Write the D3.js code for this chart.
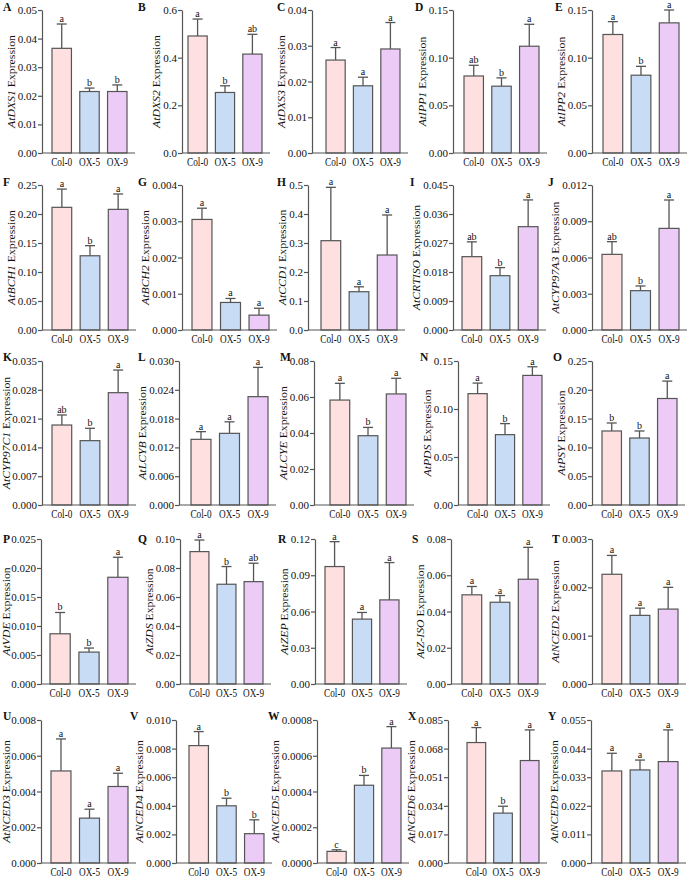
<!DOCTYPE html>
<html><head><meta charset="utf-8">
<script src="https://cdn.jsdelivr.net/npm/d3@7"></script>
<style>body{margin:0;background:#fff}svg{display:block}text{font-family:"Liberation Serif","Times New Roman",serif;fill:#111}</style>
</head><body>
<script>
// ---------- DATA ----------
const groups = ["Col-0","OX-5","OX-9"];
const panelLetters = ["A","B","C","D","E","F","G","H","I","J","K","L","M","N","O","P","Q","R","S","T","U","V","W","X","Y"];
const genes = ["DXS1","DXS2","DXS3","IPP1","IPP2","BCH1","BCH2","CCD1","CRTISO","CYP97A3","CYP97C1","LCYB","LCYE","PDS","PSY","VDE","ZDS","ZEP","Z-ISO","NCED2","NCED3","NCED4","NCED5","NCED6","NCED9"];
const yMax = [0.05,0.6,0.04,0.15,0.15, 0.25,0.004,0.5,0.045,0.012, 0.035,0.030,0.08,0.15,0.25, 0.025,0.10,0.12,0.08,0.003, 0.008,0.010,0.0008,0.085,0.055];
const tickStep = [0.01,0.2,0.01,0.05,0.05, 0.05,0.001,0.1,0.009,0.003, 0.007,0.006,0.02,0.05,0.05, 0.005,0.02,0.03,0.02,0.001, 0.002,0.002,0.0002,0.017,0.011];
const tickDecimals = [2,1,2,2,2, 2,3,1,3,3, 3,3,2,2,2, 3,2,2,2,3, 3,3,4,3,3];
const col0Mean = [0.0366,0.491,0.026,0.0808,0.1243, 0.2115,0.00305,0.308,0.02276,0.00626, 0.01944,0.01368,0.0583,0.116,0.1285, 0.00866,0.0913,0.0972,0.0492,0.00227, 0.00515,0.00821,0.000065,0.0716,0.0354];
const col0SD   = [0.0085,0.071,0.0035,0.0112,0.0135, 0.0315,0.00031,0.184,0.0046,0.00105, 0.00244,0.0016,0.0093,0.011,0.0139, 0.00367,0.008,0.0206,0.0046,0.00039, 0.00179,0.00098,0.000009,0.0089,0.0068];
const ox5Mean  = [0.0215,0.254,0.0188,0.0701,0.0816, 0.128,0.00076,0.132,0.01686,0.003255, 0.01564,0.01493,0.0385,0.0733,0.1163, 0.0055,0.0688,0.0537,0.0451,0.00142, 0.00251,0.0040,0.000435,0.02965,0.0358];
const ox5SD    = [0.0012,0.028,0.0024,0.0087,0.0093, 0.0174,0.00011,0.017,0.0025,0.00039, 0.003,0.0024,0.0046,0.0115,0.0122, 0.0007,0.0122,0.0055,0.0037,0.00015, 0.0005,0.00053,0.000055,0.0041,0.0038];
const ox9Mean  = [0.0215,0.415,0.0291,0.112,0.1365, 0.208,0.00041,0.2586,0.03207,0.00841, 0.0273,0.02257,0.0617,0.135,0.1849, 0.0184,0.0706,0.0696,0.0578,0.00155, 0.00428,0.00205,0.000643,0.0609,0.039];
const ox9SD    = [0.0023,0.083,0.0074,0.023,0.0135, 0.0265,0.00019,0.138,0.0083,0.00235, 0.0055,0.0061,0.0087,0.009,0.0302, 0.00345,0.0127,0.0309,0.0176,0.00045, 0.00074,0.00097,0.00012,0.0182,0.0122];
const col0Sig = ["a","a","a","ab","a", "a","a","a","ab","ab", "ab","a","a","a","b", "b","a","a","a","a", "a","a","c","a","a"];
const ox5Sig  = ["b","b","a","b","b", "b","a","a","b","b", "b","a","b","b","b", "b","b","a","a","a", "a","b","b","b","a"];
const ox9Sig  = ["b","ab","a","a","a", "a","a","a","a","a", "a","a","a","a","a", "a","ab","a","a","a", "a","b","a","a","a"];

// ---------- LAYOUT ----------
const colors = ["#fde0df","#c8dcf5","#ecccf6"];
const stroke = "#555";
const rowTop = [10,185,361,539,720], rowBase = [153,330,505,684,863];
const letterY = [11,186,361,543,720];
const axisX = [42,182,312,453,592, 42,182,308,453,592, 42,179,314,458,592, 41,180,315,451,592, 41,176,317,448,591];
const barL  = [52,188,326,464,603, 52,192,321,462,602, 52,191,330,468,602, 50,190,325,462,602, 51,189,327,467,602];
const barR  = [127,262,400,539,679, 128,269,397,538,679, 128,268,406,542,677, 128,263,399,538,678, 128,264,401,539,678];
const letterX = [3,138,277,415,555, 3,138,277,410,548, 3,138,280,420,553, 3,138,278,412,552, 3,130,268,408,548];

const svg = d3.select("body").append("svg").attr("width",690).attr("height",879);

genes.forEach((gene,i)=>{
  const r = Math.floor(i/5);
  const means = [col0Mean[i], ox5Mean[i], ox9Mean[i]];
  const sds = [col0SD[i], ox5SD[i], ox9SD[i]];
  const sigs = [col0Sig[i], ox5Sig[i], ox9Sig[i]];
  const data = groups.map((g,k)=>({g, m:means[k], sd:sds[k], s:sigs[k], c:colors[k]}));
  const y = d3.scaleLinear().domain([0,yMax[i]]).range([rowBase[r],rowTop[r]]);
  const x = d3.scaleBand().domain(groups).range([barL[i],barR[i]]).paddingInner(0.3).paddingOuter(0);
  const g = svg.append("g");

  // error bars
  const eb = g.selectAll(".eb").data(data).enter().append("g");
  eb.append("line").attr("x1",d=>x(d.g)+x.bandwidth()/2).attr("x2",d=>x(d.g)+x.bandwidth()/2)
    .attr("y1",d=>y(d.m)).attr("y2",d=>y(d.m+d.sd)).attr("stroke",stroke).attr("stroke-width",1.3);
  eb.append("line").attr("x1",d=>x(d.g)+x.bandwidth()/2-5).attr("x2",d=>x(d.g)+x.bandwidth()/2+5)
    .attr("y1",d=>y(d.m+d.sd)).attr("y2",d=>y(d.m+d.sd)).attr("stroke",stroke).attr("stroke-width",1.3);
  // bars
  g.selectAll(".bar").data(data).enter().append("rect")
    .attr("x",d=>x(d.g)).attr("width",x.bandwidth())
    .attr("y",d=>y(d.m)).attr("height",d=>y(0)-y(d.m))
    .attr("fill",d=>d.c).attr("stroke",stroke).attr("stroke-width",1.2);
  // significance letters
  g.selectAll(".sig").data(data).enter().append("text")
    .attr("x",d=>x(d.g)+x.bandwidth()/2).attr("y",d=>y(d.m+d.sd)-2)
    .attr("text-anchor","middle").attr("font-size",10).text(d=>d.s);

  // y axis
  const ticks = d3.range(0, yMax[i]+tickStep[i]/2, tickStep[i]);
  const ax = g.append("g").attr("transform",`translate(${axisX[i]},0)`)
    .call(d3.axisLeft(y).tickValues(ticks).tickFormat(d3.format(`.${tickDecimals[i]}f`)).tickSize(4).tickPadding(1).tickSizeOuter(0));
  ax.select(".domain").attr("stroke",stroke).attr("stroke-width",1.2);
  ax.selectAll(".tick line").attr("stroke",stroke).attr("stroke-width",1.2);
  ax.selectAll(".tick text").attr("font-size",11).attr("font-family","Liberation Serif, serif").attr("fill","#111");

  // x axis line
  g.append("line").attr("x1",axisX[i]).attr("x2",barR[i]+8).attr("y1",y(0)).attr("y2",y(0))
    .attr("stroke",stroke).attr("stroke-width",1.2);
  // x labels
  g.selectAll(".xl").data(groups).enter().append("text")
    .attr("transform",d=>`translate(${x(d)+x.bandwidth()/2},${y(0)+13}) scale(0.88,1.15)`)
    .attr("text-anchor","middle").attr("font-size",10.5).text(d=>d);

  // y title
  const bb = ax.node().getBBox();
  const tx = Math.max(10, axisX[i] + bb.x - 3);
  const ty = (rowTop[r]+rowBase[r])/2;
  const t = g.append("text").attr("transform",`translate(${tx},${ty}) rotate(-90) scale(1.12,1)`)
    .attr("text-anchor","middle").attr("font-size",10.5);
  t.append("tspan").attr("font-style","italic").text("At"+gene);
  t.append("tspan").text(" Expression");

  // panel letter
  g.append("text").attr("x",letterX[i]).attr("y",letterY[r]).attr("font-size",11.5).attr("font-weight","bold").text(panelLetters[i]);
});
</script>
</body></html>
